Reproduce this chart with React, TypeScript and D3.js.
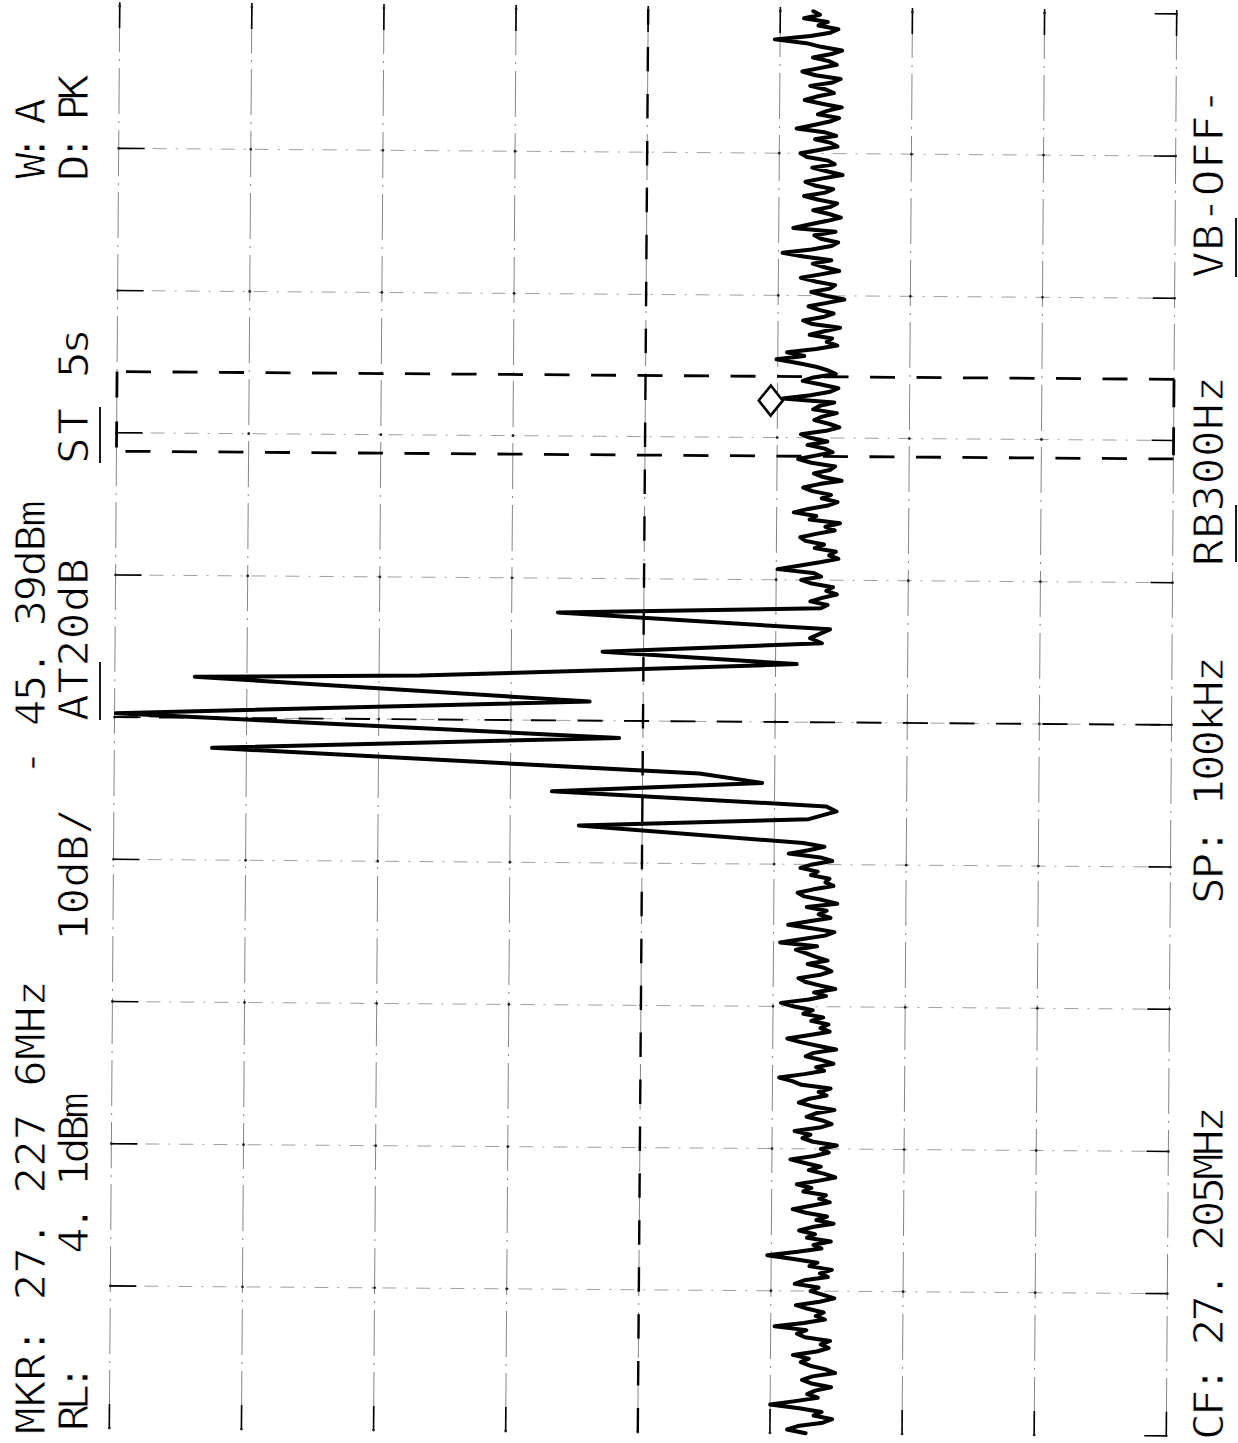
import React from "react";
import * as d3 from "d3";

// ---------- data ----------
const REF_LEVEL_DBM = 4.1;
const DB_PER_DIV = 10;
const AMP_DIVS = 8;
const SPAN_KHZ = 100; // 27.155 MHz .. 27.255 MHz
const FREQ_DIVS = 10;
const NOISE_STEP_KHZ = 0.25;

// lower noise floor, from 27.155 MHz upward, one value per 0.25 kHz
const noiseLowStartKHz = 0;
const noiseLowDbm = [
  -48.6, -47.2, -48.0, -49.9, -50.6, -49.2, -49.8, -48.1, -45.9, -47.8,
  -49.5, -48.7, -49.3, -50.5, -49.0, -48.3, -49.1, -50.8, -50.1, -48.9,
  -48.2, -48.8, -47.6, -49.4, -50.3, -49.7, -50.4, -48.5, -47.9, -48.6,
  -46.2, -48.4, -50.0, -49.3, -49.9, -48.7, -47.8, -49.6, -50.7, -49.8,
  -48.9, -49.5, -47.7, -48.4, -50.2, -49.6, -50.5, -48.8, -49.4, -47.6,
  -45.6, -47.9, -49.7, -49.1, -50.4, -48.6, -49.2, -48.0, -49.0, -50.6,
  -49.3, -50.1, -48.5, -47.5, -48.9, -50.3, -49.5, -50.0, -48.3, -48.9,
  -47.8, -49.4, -50.7, -49.9, -48.7, -49.6, -48.4, -47.3, -49.1, -50.2,
  -49.6, -50.8, -49.0, -48.2, -48.8, -47.6, -49.5, -50.4, -49.7, -48.5,
  -49.2, -50.6, -48.9, -47.9, -48.6, -50.0, -49.4, -50.3, -48.1, -47.4,
  -46.4, -48.3, -49.8, -49.2, -50.5, -49.6, -48.4, -49.0, -50.7, -49.3,
  -48.0, -47.0, -48.7, -50.2, -49.5, -50.1, -48.8, -49.7, -48.2, -48.9,
  -47.5, -46.5, -48.6, -49.9, -49.0, -50.6, -49.4, -48.3, -47.8, -49.5,
  -50.3, -49.7, -48.5, -50.0, -49.1, -48.4, -47.6, -49.2, -46.4, -48.1,
  -49.8, -50.5, -48.9, -47.0, -48.6, -50.2, -49.3, -49.9, -48.4, -50.7,
  -49.6, -48.2, -47.7, -48.9, -50.4, -49.8, -50.1, -48.7, -49.2, -47.9,
  -48.8, -50.3, -49.4, -47.0, -48.5, -49.7, -48.1,
];

// signal region vertices (kHz above start, dBm)
const signalKHz = [
  42.62, 43.18, 43.74, 44.09, 45.01, 45.71, 46.34, 47.89, 48.8, 50.28, 51.34,
  52.88, 53.09, 53.59, 54.08, 54.85, 55.56, 55.91, 56.54, 57.59, 58.02,
];
const signalDbm = [
  -31.1, -48.5, -50.6, -49.8, -29.05, -44.95, -40.2, -3.3, -34.1, 4.0, -31.85,
  -1.95, -19.0, -34.1, -47.5, -32.8, -49.4, -48.5, -50.0, -29.4, -49.3,
];

// upper noise floor, one value per 0.25 kHz
const noiseHighStartKHz = 58.25;
const noiseHighDbm = [
  -49.8, -48.5, -49.4, -50.5, -49.7, -50.2, -48.6, -47.8, -49.3, -48.7,
  -46.0, -47.6, -49.2, -50.6, -49.9, -50.4, -48.8, -49.5, -48.1, -47.7,
  -48.9, -50.3, -49.6, -50.7, -48.4, -48.9, -47.2, -48.3, -49.8, -50.5,
  -49.3, -50.0, -48.6, -47.9, -49.1, -50.8, -49.4, -48.7, -49.9, -50.3,
  -48.5, -47.5, -48.8, -50.1, -49.5, -48.2, -49.7, -48.4, -47.7, -49.6,
  -50.6, -49.8, -48.7, -49.3, -50.4, -48.6, -49.1, -50.2, -46.3, -48.4,
  -49.9, -50.5, -49.2, -47.8, -48.6, -50.3, -49.7, -48.8, -47.4, -45.8,
  -47.9, -46.6, -48.8, -50.4, -49.6, -50.0, -48.3, -49.4, -50.6, -48.5,
  -47.8, -49.3, -50.1, -49.0, -48.2, -49.6, -50.9, -49.5, -48.4, -49.8,
  -50.2, -48.7, -47.6, -49.1, -50.5, -49.4, -48.5, -49.9, -47.8, -46.2,
  -48.4, -49.9, -50.4, -49.1, -48.6, -50.2, -47.0, -48.2, -49.5, -50.6,
  -49.7, -48.5, -49.8, -50.3, -48.9, -47.8, -49.4, -50.0, -48.6, -47.9,
  -49.2, -50.7, -49.5, -48.4, -50.1, -49.6, -48.0, -47.5, -48.9, -50.3,
  -49.8, -48.6, -50.2, -49.3, -47.2, -48.5, -49.7, -50.4, -48.8, -49.5,
  -50.6, -49.1, -47.8, -48.7, -50.0, -49.4, -48.2, -49.9, -50.5, -48.6,
  -47.6, -48.9, -50.2, -49.6, -48.4, -49.8, -50.6, -49.0, -47.9, -45.5,
  -48.2, -49.7, -50.3, -48.8, -49.5, -47.7, -48.9, -48.4,
];

const markerKHz = 72.6;
const markerDbm = -45.39;
const displayLineDbm = -35.9;
const centerLineKHz = 50;
const windowLowKHz = 68.7;
const windowHighKHz = 74.3;

// annotation texts
const col1Texts = ["MKR: 27. 227 6MHz", "- 45. 39dBm", "W: A"];
const col2Texts = ["RL:", "4. 1dBm", "10dB/", "AT20dB", "ST", "5s", "D: PK"];
const col3Texts = ["CF: 27. 205MHz", "SP: 100kHz", "RB300Hz", "VB-OFF-"];

// ---------- layout ----------
const W = 1238;
const H = 1443;
const X0 = 114.5;
const X1 = 1171.5;
const Y0 = 10;
const Y1 = 1432;

export default function App() {
  const x = d3
    .scaleLinear()
    .domain([REF_LEVEL_DBM, REF_LEVEL_DBM - AMP_DIVS * DB_PER_DIV])
    .range([X0, X1]);
  const y = d3.scaleLinear().domain([0, SPAN_KHZ]).range([Y1, Y0]);

  const pts: [number, number][] = [];
  noiseLowDbm.forEach((v, i) => pts.push([noiseLowStartKHz + i * NOISE_STEP_KHZ, v]));
  signalKHz.forEach((f, i) => pts.push([f, signalDbm[i]]));
  noiseHighDbm.forEach((v, i) => pts.push([noiseHighStartKHz + i * NOISE_STEP_KHZ, v]));

  const line = d3
    .line<[number, number]>()
    .x((d) => x(d[1]))
    .y((d) => y(d[0]));
  const tracePath = line(pts) || "";

  const ampTicks = d3.range(0, AMP_DIVS + 1).map((k) => REF_LEVEL_DBM - k * DB_PER_DIV);
  const freqTicks = d3.range(0, FREQ_DIVS + 1).map((k) => (k * SPAN_KHZ) / FREQ_DIVS);

  const mx = x(markerDbm);
  const my = y(markerKHz);
  const yTop = y(windowHighKHz);
  const yBot = y(windowLowKHz);
  const xDisp = x(displayLineDbm);
  const yc = y(centerLineKHz);

  const font = "'DejaVu Sans Mono', monospace";
  const VText = (p: { bx: number; y0: number; y1: number; t: string }) => (
    <text
      transform={`translate(${p.bx},${p.y0}) rotate(-90) scale(1.08,1)`}
      fontFamily={font}
      fontSize={41}
      textLength={(p.y0 - p.y1) / 1.08}
      lengthAdjust="spacing"
      fill="#000"
      stroke="#fff"
      strokeWidth={0.9}
    >
      {p.t}
    </text>
  );

  return (
    <svg
      width={W}
      height={H}
      viewBox={`0 0 ${W} ${H}`}
      style={{ position: "absolute", left: 0, top: 0, background: "#fff" }}
    >
      <rect x={0} y={0} width={W} height={H} fill="#fff" />
      <g transform="rotate(0.42, 643, 721)">
        {/* graticule */}
        {ampTicks.map((a, k) => (
          <g key={"v" + k}>
            <line x1={x(a)} x2={x(a)} y1={Y0} y2={Y1} stroke="#666" strokeWidth={0.8} strokeDasharray="46 7 2 7" />
            <line x1={x(a)} x2={x(a)} y1={Y0 - 4} y2={Y0 + 22} stroke="#000" strokeWidth={1.6} />
            <line x1={x(a)} x2={x(a)} y1={Y1 - 24} y2={Y1} stroke="#000" strokeWidth={1.6} />
          </g>
        ))}
        {freqTicks.map((f, k) => (
          <g key={"h" + k}>
            {k > 0 && k < FREQ_DIVS && (
              <>
                <line x1={X0} x2={X1} y1={y(f)} y2={y(f)} stroke="#888" strokeWidth={0.8} strokeDasharray="14 9 2 9" />
                <line x1={X0} x2={X0 + 26} y1={y(f)} y2={y(f)} stroke="#000" strokeWidth={1.6} />
              </>
            )}
            <line x1={X1 - 22} x2={X1} y1={y(f)} y2={y(f)} stroke="#000" strokeWidth={1.6} />
            {ampTicks.map((a, j) => (
              <circle key={j} cx={x(a)} cy={y(f)} r={1.4} fill="#222" />
            ))}
          </g>
        ))}

        {/* display line */}
        <line x1={xDisp} x2={xDisp} y1={Y0} y2={Y1} stroke="#000" strokeWidth={2.4} strokeDasharray="24.5 22.43" strokeDashoffset={9.9} />
        {/* center frequency line */}
        <line x1={X0} x2={X1} y1={yc} y2={yc} stroke="#000" strokeWidth={1.9} strokeDasharray="25 21.5" strokeDashoffset={2} />
        {/* window box */}
        <line x1={X1} x2={X0} y1={yTop} y2={yTop} stroke="#000" strokeWidth={2.8} strokeDasharray="25 21.5" />
        <line x1={X1} x2={X0} y1={yBot} y2={yBot} stroke="#000" strokeWidth={2.8} strokeDasharray="25 21.5" />
        <line x1={X0} x2={X0} y1={yTop} y2={yBot} stroke="#000" strokeWidth={2.8} strokeDasharray="26 24" />
        <line x1={X1} x2={X1} y1={yTop} y2={yBot} stroke="#000" strokeWidth={2.8} strokeDasharray="28 20" />

        {/* trace */}
        <path d={tracePath} fill="none" stroke="#000" strokeWidth={4.0} strokeLinejoin="round" strokeLinecap="round" />

        {/* marker */}
        <path
          d={`M${mx},${my - 15} L${mx + 12},${my} L${mx},${my + 15} L${mx - 12},${my} Z`}
          fill="#fff"
          stroke="#000"
          strokeWidth={2.6}
        />
      </g>

      {/* annotations */}
      <VText bx={45} y0={1434} y1={980} t={col1Texts[0]} />
      <VText bx={45} y0={776} y1={500} t={col1Texts[1]} />
      <VText bx={45} y0={179} y1={98} t={col1Texts[2]} />

      <VText bx={88} y0={1431} y1={1364} t={col2Texts[0]} />
      <VText bx={88} y0={1254} y1={1092} t={col2Texts[1]} />
      <VText bx={88} y0={941} y1={808} t={col2Texts[2]} />
      <VText bx={88} y0={721} y1={558} t={col2Texts[3]} />
      <VText bx={88} y0={464} y1={408} t={col2Texts[4]} />
      <VText bx={88} y0={378} y1={328} t={col2Texts[5]} />
      <VText bx={88} y0={181} y1={74} t={col2Texts[6]} />

      <VText bx={1223} y0={1440} y1={1106} t={col3Texts[0]} />
      <VText bx={1223} y0={904} y1={656} t={col3Texts[1]} />
      <VText bx={1223} y0={566} y1={376} t={col3Texts[2]} />
      <VText bx={1223} y0={278} y1={88} t={col3Texts[3]} />

      {/* underlines */}
      <line x1={100} x2={100} y1={407} y2={463} stroke="#000" strokeWidth={1.8} />
      <line x1={100} x2={100} y1={662} y2={720} stroke="#000" strokeWidth={1.8} />
      <line x1={1236} x2={1236} y1={505} y2={562} stroke="#000" strokeWidth={1.8} />
      <line x1={1236} x2={1236} y1={218} y2={277} stroke="#000" strokeWidth={1.8} />
    </svg>
  );
}
